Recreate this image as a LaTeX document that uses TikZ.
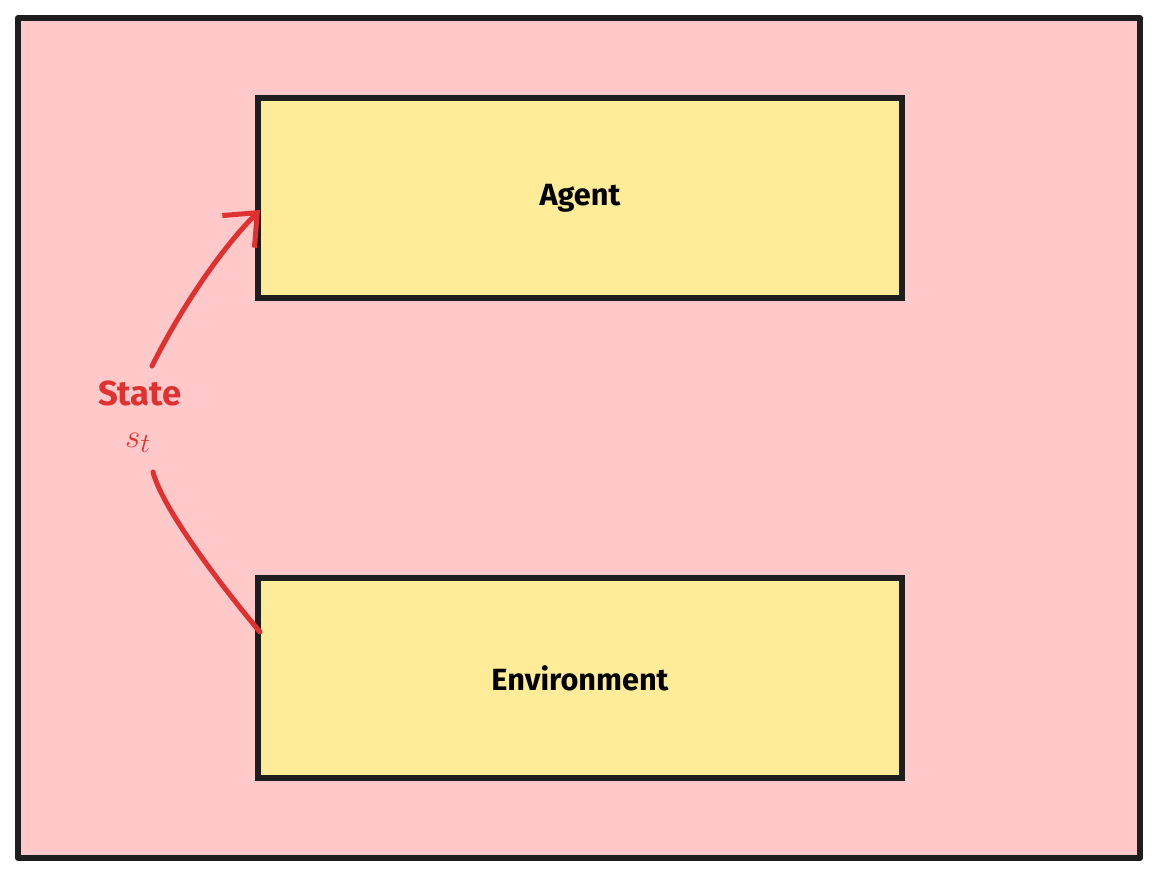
\documentclass[tikz,border=0pt]{standalone}
\usepackage{fontspec}
\setmainfont{Fira Sans}
\usetikzlibrary{arrows.meta}
\definecolor{pinkbg}{HTML}{FFC9C9}
\definecolor{yelbox}{HTML}{FFEC99}
\definecolor{redc}{HTML}{E03131}
\definecolor{ink}{HTML}{1E1E1E}
\tikzset{
  box/.style={draw=ink,line width=4.5pt,fill=yelbox,minimum width=483pt,minimum height=150pt,font=\fontsize{23}{27}\selectfont\bfseries,inner sep=0},
  redline/.style={draw=redc,line width=3.75pt,line cap=round}
}
\begin{document}
\begin{tikzpicture}[x=0.75pt,y=-0.75pt]
\useasboundingbox (0,0) rectangle (1160,880);
\draw[ink,line width=4.5pt,fill=pinkbg,line join=round] (18,18) rectangle (1140,858);
\node[box] (agent) at (580,198) {Agent};
\node[box] (env) at (580,678) {Environment};
\node[text=redc,font=\fontsize{26}{30}\selectfont\bfseries] (state) at (140,393) {State};
\node[text=redc,font=\fontsize{28}{32}\selectfont] (st) at (138,443) {$s_t$};
\coordinate (envp) at (260,632);
\coordinate (agp) at (260,210);
\draw[redline] (envp) .. controls (200,560) and (160,500) .. (153,472);
\draw[redline,-{Straight Barb[length=20pt,width=34pt,line width=3.75pt]}] (152,366) .. controls (180,310) and (220,250) .. (agp);
\end{tikzpicture}
\end{document}
